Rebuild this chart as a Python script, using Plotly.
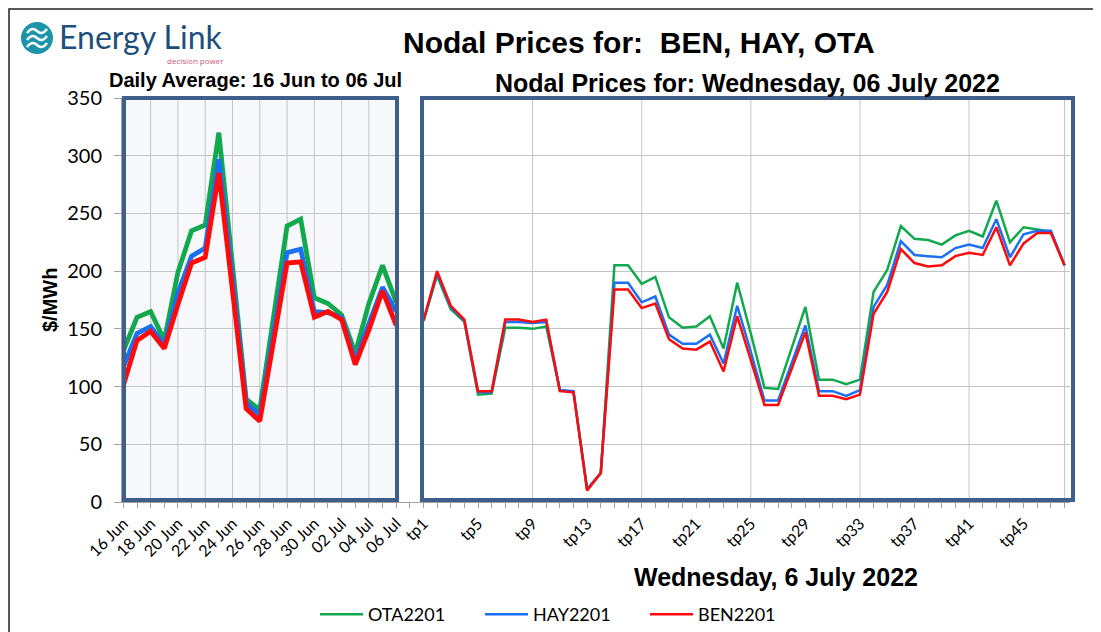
import plotly.graph_objects as go

# ---------------- data ----------------
days = ['16 Jun', '17 Jun', '18 Jun', '19 Jun', '20 Jun', '21 Jun', '22 Jun', '23 Jun',
        '24 Jun', '25 Jun', '26 Jun', '27 Jun', '28 Jun', '29 Jun', '30 Jun', '01 Jul',
        '02 Jul', '03 Jul', '04 Jul', '05 Jul', '06 Jul']
ota_daily = [131, 160, 165, 140, 199, 235, 240, 320, 205, 89, 80, 158, 239, 245, 177, 172, 162, 129, 172, 205, 173]
hay_daily = [117, 146, 152, 136, 181, 213, 220, 297, 194, 86, 75, 146, 216, 219, 165, 164, 160, 123, 155, 186, 165]
ben_daily = [101, 140, 148, 133, 171, 207, 212, 285, 183, 81, 70, 138, 207, 208, 160, 165, 158, 119, 149, 183, 153]

tps = ['tp%d' % i for i in range(1, 49)]
ota_tp = [157, 196, 167, 156, 93, 94, 151, 151, 150, 152, 97, 95, 11, 25, 205, 205, 189, 195, 160, 151,
          152, 161, 133, 190, 146, 99, 98, 134, 169, 106, 106, 102, 106, 182, 201, 239, 228, 227, 223, 231,
          235, 230, 261, 225, 238, 236, 234, 205]
hay_tp = [157, 198, 169, 157, 95, 95, 156, 156, 155, 156, 97, 96, 11, 25, 190, 190, 173, 178, 145, 137,
          137, 145, 120, 170, 130, 88, 88, 121, 153, 96, 96, 92, 97, 169, 188, 226, 214, 213, 212, 220,
          223, 220, 245, 212, 232, 235, 235, 205]
ben_tp = [157, 200, 170, 158, 96, 96, 158, 158, 156, 158, 96, 95, 10, 25, 184, 184, 168, 172, 141, 133,
          132, 139, 113, 161, 123, 84, 84, 115, 147, 92, 92, 89, 93, 163, 182, 219, 207, 204, 205, 213,
          216, 214, 238, 205, 224, 233, 233, 205]

series_names = ['OTA2201', 'HAY2201', 'BEN2201']
colors = ['#12a84e', '#1a6ff2', '#ff0a0a']

# category positions: days, one blank slot, then trading periods
day_x = list(range(len(days)))
tp_x = [len(days) + 1 + i for i in range(len(tps))]

tickvals = day_x[::2] + tp_x[::4]
ticktext = days[::2] + tps[::4]

fig = go.Figure()
daily = [ota_daily, hay_daily, ben_daily]
tpdata = [ota_tp, hay_tp, ben_tp]
for name, col, d in zip(series_names, colors, daily):
    fig.add_trace(go.Scatter(x=day_x, y=d, mode='lines', name=name, showlegend=False,
                             line=dict(color=col, width=4.8), legendgroup=name))
for name, col, d in zip(series_names, colors, tpdata):
    fig.add_trace(go.Scatter(x=tp_x, y=d, mode='lines', name=name, showlegend=True,
                             line=dict(color=col, width=2.5), legendgroup=name))

# ---------------- layout ----------------
# the page places the figure 8px from the top-left corner of the window
OFF = 8
W, H = 1101 - OFF, 632 - OFF
PL, PR, PT, PB = 122, 1070, 98, 502          # plot area in window pixels
L, T = PL - OFF, PT - OFF
R, B = W - (PR - OFF), H - (PB - OFF)
pw, ph = PR - PL, PB - PT


def px(xs):
    return (xs - PL) / pw


def py(ys):
    return (PB - ys) / ph


grid_col = '#c4c4c4'
box_col = '#3e5e8b'
shapes = []
# left panel fill
shapes.append(dict(type='rect', xref='paper', yref='paper', x0=px(124), x1=px(398), y0=py(500), y1=py(98),
                   fillcolor='#f6f8fc', line=dict(width=0), layer='below'))
# vertical gridlines
for gx in day_x[::2] + tp_x[::8] + [tp_x[-1]]:
    shapes.append(dict(type='line', xref='x', yref='paper', x0=gx, x1=gx, y0=0, y1=1,
                       line=dict(color=grid_col, width=1), layer='below'))
# panel borders
shapes.append(dict(type='rect', xref='paper', yref='paper', x0=px(124), x1=px(397), y0=py(500), y1=py(98),
                   line=dict(color=box_col, width=4), layer='above'))
shapes.append(dict(type='rect', xref='paper', yref='paper', x0=px(422), x1=px(1073), y0=py(500), y1=py(98),
                   line=dict(color=box_col, width=4), layer='above'))
# outer border
shapes.append(dict(type='rect', xref='paper', yref='paper', x0=px(9), x1=px(1097), y0=py(645), y1=py(9),
                   line=dict(color='#222222', width=1.5), layer='above'))
# logo circle
shapes.append(dict(type='circle', xref='paper', yref='paper', x0=px(21), x1=px(53), y0=py(54), y1=py(22),
                   fillcolor='#1b93a8', line=dict(width=0), layer='above'))
# logo waves
for dy in (-7, 0, 7):
    cy = 38 + dy
    path = 'M %f %f Q %f %f %f %f T %f %f' % (px(27), py(cy + 2), px(32), py(cy - 5), px(37), py(cy),
                                               px(47), py(cy - 2))
    shapes.append(dict(type='path', xref='paper', yref='paper', path=path,
                       line=dict(color='white', width=2.5), layer='above'))

annotations = [
    dict(text='<b>Nodal Prices for:  BEN, HAY, OTA</b>', x=px(639), y=py(42), xref='paper', yref='paper',
         showarrow=False, font=dict(family='Liberation Sans, Arial', size=30, color='black'),
         xanchor='center', yanchor='middle'),
    dict(text='<b>Daily Average: 16 Jun to 06 Jul</b>', x=px(255), y=py(80), xref='paper', yref='paper',
         showarrow=False, font=dict(family='Liberation Sans, Arial', size=20, color='black'),
         xanchor='center', yanchor='middle'),
    dict(text='<b>Nodal Prices for: Wednesday, 06 July 2022</b>', x=px(747), y=py(83), xref='paper',
         yref='paper', showarrow=False, font=dict(family='Liberation Sans, Arial', size=25, color='black'),
         xanchor='center', yanchor='middle'),
    dict(text='<b>Wednesday, 6 July 2022</b>', x=px(776), y=py(577), xref='paper', yref='paper',
         showarrow=False, font=dict(family='Liberation Sans, Arial', size=25, color='black'),
         xanchor='center', yanchor='middle'),
    dict(text='<b>$/MWh</b>', x=px(50), y=py(300), xref='paper', yref='paper', textangle=-90,
         showarrow=False, font=dict(family='Liberation Sans, Arial', size=20, color='black'),
         xanchor='center', yanchor='middle'),
    dict(text='Energy Link', x=px(57), y=py(36), xref='paper', yref='paper', showarrow=False,
         font=dict(family='Lato', size=32, color='#1c4f7c'), xanchor='left', yanchor='middle'),
    dict(text='decision power', x=px(226), y=py(61), xref='paper', yref='paper', showarrow=False,
         font=dict(family='Open Sans', size=8, color='#cc5a76'), xanchor='right', yanchor='middle'),
]

fig.update_layout(
    width=W, height=H,
    margin=dict(l=L, r=R, t=T, b=B, pad=0, autoexpand=False),
    paper_bgcolor='white', plot_bgcolor='white',
    shapes=shapes, annotations=annotations,
    font=dict(family='Lato', color='black'),
    legend=dict(orientation='h', x=px(315), y=py(596), xanchor='left', yanchor='top',
                font=dict(family='Lato', size=18, color='black'), itemwidth=43,
                entrywidth=107, entrywidthmode='pixels', bgcolor='rgba(0,0,0,0)'),
    xaxis=dict(range=[-0.1, 69.4], tickmode='array', tickvals=tickvals, ticktext=ticktext,
               tickangle=-45, tickfont=dict(family='Lato', size=16, color='black'), automargin=False,
               showgrid=False, zeroline=False, showline=True, linecolor='#a0a0a0', linewidth=1,
               ticks='outside', ticklen=5, tickcolor='#a0a0a0',
               minor=dict(dtick=1, tick0=0, ticks='outside', ticklen=5, tickcolor='#a0a0a0', showgrid=False)),
    yaxis=dict(range=[0, 350], dtick=50, tick0=0, showgrid=True, gridcolor=grid_col, gridwidth=1,
               automargin=False, ticklabelstandoff=8,
               zeroline=False, showline=True, linecolor='#a0a0a0', ticks='outside', ticklen=7,
               tickcolor='#a0a0a0', tickfont=dict(family='Lato', size=20, color='black')),
)

fig.write_html('out.html')
